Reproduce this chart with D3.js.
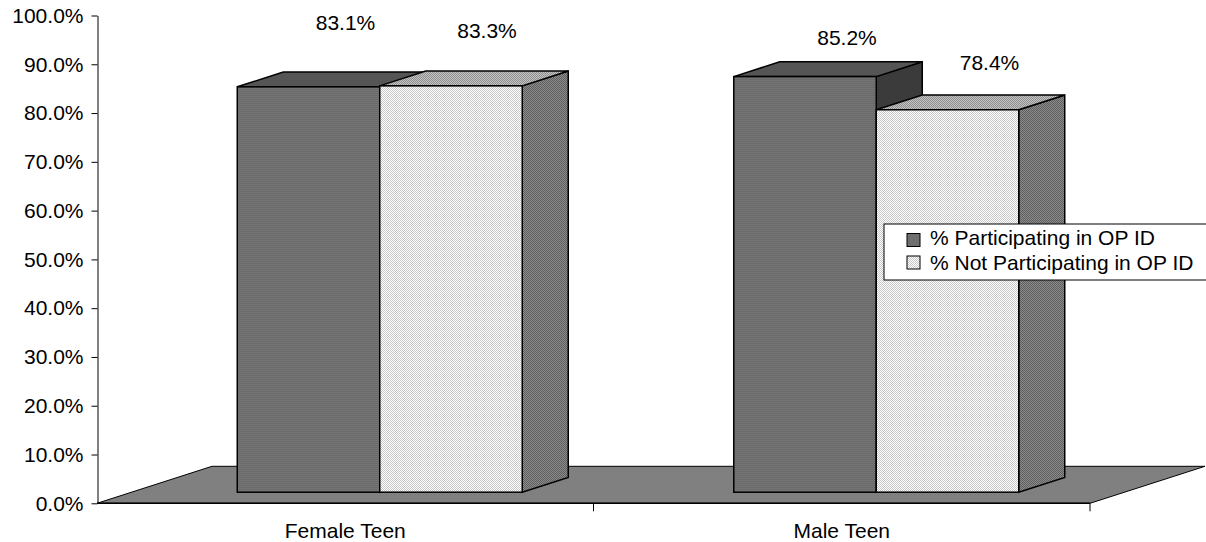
<!DOCTYPE html>
<html>
<head>
<meta charset="utf-8">
<script src="https://cdn.jsdelivr.net/npm/d3@7"></script>
<style>
  html, body { margin: 0; padding: 0; background: #ffffff; }
  svg { display: block; }
  text { font-family: "Liberation Sans", Arial, sans-serif; font-size: 21px; fill: #000; }
</style>
</head>
<body>
<svg id="chart" width="1206" height="542"></svg>
<script>
// ---- data ----
const categories = ["Female Teen", "Male Teen"];
const seriesNames = ["% Participating in OP ID", "% Not Participating in OP ID"];
const participating = [0.831, 0.852];
const notParticipating = [0.833, 0.784];
const yTickValues = [0, 0.1, 0.2, 0.3, 0.4, 0.5, 0.6, 0.7, 0.8, 0.9, 1.0];

// ---- layout ----
const W = 1206, H = 542;
const plotLeft = 97, plotRight = 1090, plotBottom = 503.3, plotTop = 15.5;
const floorDepth = { dx: 115, dy: -37 };   // projected depth of the 3-D floor
const barFront = 0.3, barBack = 0.7;       // bar depth as a fraction of the floor depth
const groupFrac = 0.574;                    // share of each category band used by its bar pair
// data label placement (shift from the bar's front-top centre)
const labelShift = [
  [[37, -57], [36, -48]],
  [[42, -32], [42, -40]]
];

const svg = d3.select("#chart");
const defs = svg.append("defs");

function checker(id, a, b) {
  const p = defs.append("pattern").attr("id", id).attr("patternUnits", "userSpaceOnUse")
    .attr("width", 2).attr("height", 2);
  p.append("rect").attr("width", 2).attr("height", 2).attr("fill", a);
  p.append("rect").attr("width", 1).attr("height", 1).attr("fill", b);
  p.append("rect").attr("x", 1).attr("y", 1).attr("width", 1).attr("height", 1).attr("fill", b);
}
function stripes(id, a, b) {
  const p = defs.append("pattern").attr("id", id).attr("patternUnits", "userSpaceOnUse")
    .attr("width", 4).attr("height", 2);
  p.append("rect").attr("width", 4).attr("height", 2).attr("fill", a);
  p.append("rect").attr("width", 4).attr("height", 1).attr("fill", b);
}
stripes("partFront", "#6a6a6a", "#747474");
checker("notFront", "#ffffff", "#c6c6c6");
checker("notTop", "#c4c4c4", "#8e8e8e");
checker("notSide", "#8c8c8c", "#5e5e5e");

const faces = [
  { front: "url(#partFront)", top: "#555555", side: "#3b3b3b" },
  { front: "url(#notFront)", top: "url(#notTop)", side: "url(#notSide)" }
];

const x = d3.scaleBand().domain(categories).range([plotLeft, plotRight]);
const y = d3.scaleLinear().domain([0, 1]).range([plotBottom, plotTop]);
const bw = x.bandwidth();
const groupW = bw * groupFrac;
const barW = groupW / 2;
const fdx = floorDepth.dx * barFront, fdy = floorDepth.dy * barFront;
const bdx = floorDepth.dx * (barBack - barFront), bdy = floorDepth.dy * (barBack - barFront);

const line = d3.line();

// floor
svg.append("path")
  .attr("d", line([
    [plotLeft, plotBottom], [plotRight, plotBottom],
    [plotRight + floorDepth.dx, plotBottom + floorDepth.dy],
    [plotLeft + floorDepth.dx, plotBottom + floorDepth.dy]
  ]) + "Z")
  .attr("fill", "#808080").attr("stroke", "#000").attr("stroke-width", 1);

// bars
const seriesValues = [participating, notParticipating];
const bars = svg.append("g");
categories.forEach((cat, i) => {
  seriesValues.forEach((vals, s) => {
    const v = vals[i];
    const x0 = x(cat) + (bw - groupW) / 2 + s * barW + fdx;
    const x1 = x0 + barW;
    const yb = y(0) + fdy;
    const yt = y(v) + fdy;
    const g = bars.append("g")
      .attr("stroke", "#000").attr("stroke-width", 1.5).attr("stroke-linejoin", "miter");
    g.append("path")
      .attr("d", line([[x1, yt], [x1 + bdx, yt + bdy], [x1 + bdx, yb + bdy], [x1, yb]]) + "Z")
      .attr("fill", faces[s].side);
    g.append("path")
      .attr("d", line([[x0, yt], [x1, yt], [x1 + bdx, yt + bdy], [x0 + bdx, yt + bdy]]) + "Z")
      .attr("fill", faces[s].top);
    g.append("rect")
      .attr("x", x0).attr("y", yt).attr("width", barW).attr("height", yb - yt)
      .attr("fill", faces[s].front);
    const sh = labelShift[i][s];
    svg.append("text")
      .attr("x", x0 + barW / 2 + sh[0]).attr("y", yt + sh[1])
      .attr("text-anchor", "middle")
      .text(d3.format(".1%")(v));
  });
});

// y axis
const yAxis = svg.append("g")
  .attr("transform", `translate(${plotLeft + 0.5},0)`)
  .call(d3.axisLeft(y).tickValues(yTickValues).tickFormat(d3.format(".1%"))
    .tickSize(6).tickSizeOuter(0).tickPadding(8));
yAxis.select(".domain").attr("stroke", "#000");
yAxis.selectAll(".tick line").attr("stroke", "#000");
yAxis.selectAll("text").attr("font-size", null).attr("font-family", null);
yAxis.attr("font-size", null).attr("font-family", null);

// x axis: line at the floor's front edge, ticks at band boundaries, labels centred
const xAxis = svg.append("g");
xAxis.append("line")
  .attr("x1", plotLeft).attr("x2", plotRight)
  .attr("y1", plotBottom).attr("y2", plotBottom)
  .attr("stroke", "#000").attr("stroke-width", 1.5);
const boundaries = categories.map(c => x(c) + bw);
xAxis.selectAll("line.tk").data(boundaries).enter().append("line")
  .attr("class", "tk")
  .attr("x1", d => d).attr("x2", d => d)
  .attr("y1", plotBottom).attr("y2", plotBottom + 8)
  .attr("stroke", "#000").attr("stroke-width", 1);
xAxis.selectAll("text").data(categories).enter().append("text")
  .attr("x", d => x(d) + bw / 2).attr("y", 538)
  .attr("text-anchor", "middle")
  .text(d => d);

// legend
const legend = svg.append("g").attr("transform", "translate(884,224)");
legend.append("rect")
  .attr("width", 340).attr("height", 56)
  .attr("fill", "#fff").attr("stroke", "#000").attr("stroke-width", 1);
const swatchFill = ["#6e6e6e", "url(#notFront)"];
seriesNames.forEach((name, k) => {
  legend.append("rect")
    .attr("x", 23).attr("y", 9.5 + k * 22.5).attr("width", 13).attr("height", 13)
    .attr("fill", swatchFill[k]).attr("stroke", "#000").attr("stroke-width", 1);
  legend.append("text")
    .attr("x", 46).attr("y", 20.5 + k * 25.5)
    .text(name);
});
</script>
</body>
</html>
